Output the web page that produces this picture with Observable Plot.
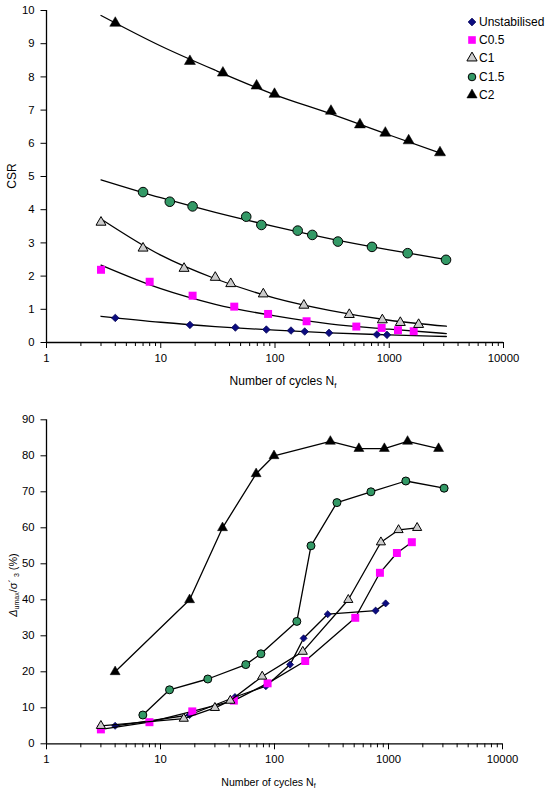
<!DOCTYPE html>
<html><head><meta charset="utf-8">
<script src="https://cdn.jsdelivr.net/npm/d3@7"></script>
<script src="https://cdn.jsdelivr.net/npm/@observablehq/plot@0.6"></script>
<style>
body{margin:0;background:#fff;font-family:"Liberation Sans",Arial,sans-serif;}
#wrap{position:relative;width:550px;height:792px;overflow:hidden;}
#top,#bottom{height:396px;}
#legend{position:absolute;left:466px;top:12.5px;font-size:12px;color:#000;}
.item{display:flex;align-items:center;height:18.3px;white-space:nowrap;}
.item svg{width:12px;height:12px;margin-right:1px;flex:none;}
</style></head><body>
<div id="wrap"><div id="top"></div><div id="bottom"></div><div id="legend"></div></div>
<script>
// ---------- categories ----------
const seriesNames = ["Unstabilised", "C0.5", "C1", "C1.5", "C2"];

// ---------- tick labels ----------
const xMajorTicks = [1, 10, 100, 1000, 10000];
const csrTicks = [0, 1, 2, 3, 4, 5, 6, 7, 8, 9, 10];
const ppTicks = [0, 10, 20, 30, 40, 50, 60, 70, 80, 90];

// ---------- top chart: CSR vs N ----------
const csrN_U   = [4, 18, 45, 84, 138, 182, 297, 780, 955];
const csr_U    = [0.74, 0.53, 0.45, 0.39, 0.36, 0.33, 0.29, 0.24, 0.23];
const csrN_C05 = [3, 8, 19, 44, 87, 189, 515, 858, 1192, 1636];
const csr_C05  = [2.19, 1.83, 1.41, 1.08, 0.86, 0.64, 0.48, 0.44, 0.37, 0.34];
const csrN_C1  = [3, 7, 16, 30, 41, 79, 179, 447, 870, 1250, 1808];
const csr_C1   = [3.62, 2.84, 2.23, 1.96, 1.77, 1.46, 1.12, 0.84, 0.68, 0.60, 0.54];
const csrN_C15 = [7, 12, 19, 56, 76, 158, 212, 355, 706, 1449, 3140];
const csr_C15  = [4.53, 4.24, 4.10, 3.79, 3.54, 3.37, 3.24, 3.04, 2.88, 2.69, 2.49];
const csrN_C2  = [4, 18, 35, 69, 99, 309, 554, 924, 1479, 2780];
const csr_C2   = [9.62, 8.47, 8.12, 7.73, 7.48, 6.97, 6.56, 6.31, 6.08, 5.72];

// trend lines
const trendN_U   = [3, 10, 30, 100, 300, 1000, 3160];
const trend_U    = [0.79, 0.61, 0.48, 0.37, 0.29, 0.23, 0.18];
const trendN_C05 = [3, 10, 30, 100, 300, 1000, 3160];
const trend_C05  = [2.33, 1.62, 1.15, 0.80, 0.56, 0.40, 0.27];
const trendN_C1  = [3, 10, 30, 100, 300, 1000, 3160];
const trend_C1   = [3.72, 2.63, 1.92, 1.34, 0.97, 0.67, 0.49];
const trendN_C15 = [3, 10, 30, 100, 300, 1000, 3140];
const trend_C15  = [4.90, 4.36, 3.92, 3.49, 3.13, 2.79, 2.50];
const trendN_C2  = [3, 10, 30, 100, 300, 1000, 3050];
const trend_C2   = [9.85, 8.93, 8.20, 7.46, 6.90, 6.25, 5.66];

// ---------- bottom chart: Δumax/σ'3 (%) vs N ----------
const ppN_U   = [4, 18, 45, 84, 137, 180, 293, 771, 944];
const pp_U    = [5, 8, 13, 16, 22, 29.3, 36, 37, 39];
const ppN_C05 = [3, 8, 19, 44, 87, 186, 511, 841, 1185, 1602];
const pp_C05  = [4, 6, 9, 12, 16.8, 23, 35, 47.5, 53, 56];
const ppN_C1  = [3, 16, 30, 41, 78, 177, 444, 858, 1225, 1783];
const pp_C1   = [5, 7, 10, 12, 18.7, 25.6, 40, 56, 59.4, 60];
const ppN_C15 = [7, 12, 26, 56, 76, 157, 209, 353, 701, 1419, 3075];
const pp_C15  = [8, 15, 18, 22, 25, 34, 55, 67, 70, 73, 71];
const ppN_C2  = [4, 18, 35, 69, 99, 309, 550, 920, 1470, 2750];
const pp_C2   = [20, 40, 60, 75, 80, 84, 82, 82, 84, 82];

// ---------- styles ----------
const styles = {
  "Unstabilised": {symbol: "diamond2", fill: "#0c0c80", stroke: "#000050", sw: 0.7, rTop: 3.4, rBot: 3.2},
  "C0.5": {symbol: "square", fill: "#ff00ff", stroke: "none", sw: 0, rTop: 4.5, rBot: 4.5},
  "C1": {symbol: "triangle", fill: "#cccccc", stroke: "#000", sw: 1, rTop: 3.7, rBot: 3.4},
  "C1.5": {symbol: "circle", fill: "#339966", stroke: "#000", sw: 1, rTop: 4.8, rBot: 4.0},
  "C2": {symbol: "triangle", fill: "#000", stroke: "#000", sw: 0.5, rTop: 4.1, rBot: 3.7}
};

const toRows = (Ns, vs) => Ns.map((n, i) => ({N: n, v: vs[i]}));

const topSeries = [
  [csrN_U, csr_U, trendN_U, trend_U],
  [csrN_C05, csr_C05, trendN_C05, trend_C05],
  [csrN_C1, csr_C1, trendN_C1, trend_C1],
  [csrN_C15, csr_C15, trendN_C15, trend_C15],
  [csrN_C2, csr_C2, trendN_C2, trend_C2]
];
const botSeries = [
  [ppN_U, pp_U], [ppN_C05, pp_C05], [ppN_C1, pp_C1], [ppN_C15, pp_C15], [ppN_C2, pp_C2]
];

const minorTicks = d3.scaleLog().domain([1, 10000]).ticks().filter(t => !xMajorTicks.includes(t));
const FONT = "Liberation Sans, Arial, sans-serif";

function axesMarks(yTicks, yDomain) {
  return [
    Plot.axisY({ticks: yTicks, tickSize: 5.5, tickPadding: 6.5, label: null, strokeWidth: 1, tickFormat: d => String(d)}),
    Plot.axisX({ticks: xMajorTicks, tickSize: 6, tickPadding: 5, label: null, strokeWidth: 1, tickFormat: d => String(d)}),
    Plot.axisX({ticks: minorTicks, tickSize: 4, label: null, strokeWidth: 1, tickFormat: () => ""}),
    Plot.ruleY([yDomain[0]], {stroke: "#000", strokeWidth: 1.3}),
    Plot.ruleX([1], {stroke: "#000", strokeWidth: 1.3})
  ];
}

// ---------- top plot ----------
const topMarks = [...axesMarks(csrTicks, [0, 10])];
topSeries.forEach(([, , tN, tv]) => {
  topMarks.push(Plot.line(toRows(tN, tv), {x: "N", y: "v", stroke: "#000", strokeWidth: 1.3, curve: "monotone-x"}));
});
topSeries.forEach(([N, v], i) => {
  const st = styles[seriesNames[i]];
  topMarks.push(Plot.dot(toRows(N, v), {x: "N", y: "v", symbol: st.symbol, fill: st.fill, stroke: st.stroke, strokeWidth: st.sw, r: st.rTop}));
});

const topPlot = Plot.plot({
  width: 550, height: 396,
  marginTop: 10, marginBottom: 54, marginLeft: 46, marginRight: 47,
  x: {type: "log", domain: [1, 10000]},
  y: {domain: [0, 10]},
  style: {fontFamily: FONT, fontSize: "11.3px", color: "#000", background: "white", overflow: "visible"},
  marks: topMarks
});

// ---------- bottom plot ----------
const botMarks = [...axesMarks(ppTicks, [0, 90])];
botSeries.forEach(([N, v], i) => {
  const st = styles[seriesNames[i]];
  botMarks.push(Plot.line(toRows(N, v), {x: "N", y: "v", stroke: "#000", strokeWidth: 1.3}));
  botMarks.push(Plot.dot(toRows(N, v), {x: "N", y: "v", symbol: st.symbol, fill: st.fill, stroke: st.stroke, strokeWidth: st.sw, r: st.rBot}));
});

const botPlot = Plot.plot({
  width: 550, height: 396,
  marginTop: 23.3, marginBottom: 48.7, marginLeft: 46, marginRight: 48,
  x: {type: "log", domain: [1, 10000]},
  y: {domain: [0, 90]},
  style: {fontFamily: FONT, fontSize: "11.3px", color: "#000", background: "white", overflow: "visible"},
  marks: botMarks
});

document.getElementById("top").appendChild(topPlot);
document.getElementById("bottom").appendChild(botPlot);

// ---------- axis titles (with subscripts) ----------
function xTitle(svg, cx, cy, size) {
  const t = d3.select(svg).append("text")
    .attr("x", cx).attr("y", cy).attr("text-anchor", "middle")
    .attr("dominant-baseline", "central")
    .attr("font-family", FONT).attr("font-size", size).attr("fill", "#000");
  t.append("tspan").text("Number of cycles N");
  t.append("tspan").attr("dy", size * 0.3).attr("font-size", size * 0.65).text("f");
}
xTitle(topPlot, 283, 381, 12);
xTitle(botPlot, 268.5, 385.7, 10.6);

d3.select(topPlot).append("text")
  .attr("transform", "translate(12,176) rotate(-90)")
  .attr("text-anchor", "middle").attr("dominant-baseline", "central")
  .attr("font-family", FONT).attr("font-size", 12).attr("fill", "#000")
  .text("CSR");

{
  const s = 10.8;
  const t = d3.select(botPlot).append("text")
    .attr("transform", "translate(13,189) rotate(-90)")
    .attr("text-anchor", "middle").attr("dominant-baseline", "central")
    .attr("font-family", FONT).attr("font-size", s).attr("fill", "#000");
  t.append("tspan").attr("font-style", "italic").text("Δ");
  t.append("tspan").attr("dy", s * 0.3).attr("font-size", s * 0.65).text("umax");
  t.append("tspan").attr("dy", -s * 0.3).text("/σ´");
  t.append("tspan").attr("dy", s * 0.3).attr("font-size", s * 0.65).text(" 3");
  t.append("tspan").attr("dy", -s * 0.3).text(" (%)");
}

// ---------- legend ----------
const legend = d3.select("#legend");
seriesNames.forEach(name => {
  const st = styles[name];
  const item = legend.append("div").attr("class", "item");
  const svg = item.append("svg").attr("viewBox", "-6 -6 12 12");
  const symMap = {diamond2: d3.symbolDiamond2, square: d3.symbolSquare, triangle: d3.symbolTriangle, circle: d3.symbolCircle};
  const r = name === "C0.5" ? 4.3 : (name === "Unstabilised" ? 3.5 : 3.8);
  svg.append("path")
    .attr("d", d3.symbol(symMap[st.symbol], Math.PI * r * r)())
    .attr("fill", st.fill).attr("stroke", st.stroke).attr("stroke-width", st.sw);
  item.append("span").text(name);
});
</script>
</body></html>
